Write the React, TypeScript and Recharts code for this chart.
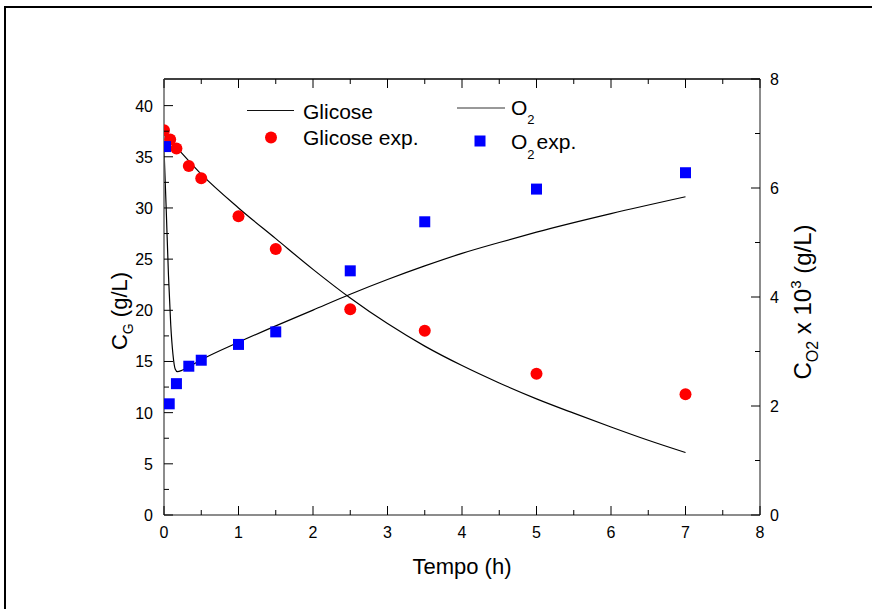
import React from 'react';
import { ComposedChart, Line, Scatter, XAxis, YAxis, Legend } from 'recharts';

// ---------- data ----------
const glcExpT = [0, 0.083, 0.167, 0.333, 0.5, 1, 1.5, 2.5, 3.5, 5, 7];
const glcExpY = [37.6, 36.7, 35.8, 34.1, 32.9, 29.2, 26.0, 20.1, 18.0, 13.8, 11.8];

const o2ExpT = [0.02, 0.07, 0.167, 0.333, 0.5, 1, 1.5, 2.5, 3.5, 5, 7];
const o2ExpY = [6.76, 2.04, 2.41, 2.73, 2.84, 3.13, 3.36, 4.48, 5.38, 5.98, 6.28];

const glcModelT = [0, 0.17, 0.5, 1, 1.5, 2, 2.5, 3, 3.5, 4, 4.5, 5, 5.5, 6, 6.5, 7];
const glcModelY = [37.2, 35.9, 33.3, 30.0, 27.0, 24.0, 21.2, 18.7, 16.5, 14.6, 12.9, 11.35, 9.95, 8.6, 7.3, 6.1];

const o2ModelT = [0, 0.03, 0.06, 0.09, 0.12, 0.15, 0.18, 0.25, 0.5, 1, 1.5, 2, 2.5, 3, 3.5, 4, 4.5, 5, 6, 7];
const o2ModelY = [6.72, 5.6, 4.4, 3.5, 2.95, 2.68, 2.63, 2.66, 2.85, 3.17, 3.47, 3.76, 4.05, 4.32, 4.57, 4.8, 5.0, 5.19, 5.53, 5.84];

const xTicks = [0, 0.5, 1, 1.5, 2, 2.5, 3, 3.5, 4, 4.5, 5, 5.5, 6, 6.5, 7, 7.5, 8];
const gTicks = [0, 2.5, 5, 7.5, 10, 12.5, 15, 17.5, 20, 22.5, 25, 27.5, 30, 32.5, 35, 37.5, 40];
const oTicks = [0, 1, 2, 3, 4, 5, 6, 7, 8];

const zip = (ts: number[], ys: number[]) => ts.map((t, i) => ({ t, y: ys[i] }));
const glcExp = zip(glcExpT, glcExpY);
const o2Exp = zip(o2ExpT, o2ExpY);
const glcModel = zip(glcModelT, glcModelY);
const o2Model = zip(o2ModelT, o2ModelY);

const FONT = "Arial, 'Liberation Sans', sans-serif";
const AXIS_COLOR = '#666';

const isMajorX = (v: number) => Number.isInteger(v);
const isMajorG = (v: number) => v % 5 === 0;
const isMajorO = (v: number) => v % 2 === 0;

const BottomTick = (p: any) => {
  const v = p.payload.value;
  const major = isMajorX(v);
  return (
    <g>
      <line x1={p.x} x2={p.x} y1={p.y} y2={p.y - (major ? 9 : 5)} stroke="#000" strokeWidth={1} />
      {major && (
        <text x={p.x} y={p.y + 23} textAnchor="middle" fontSize={16} fontFamily={FONT} fill="#000">
          {v}
        </text>
      )}
    </g>
  );
};

const TopTick = (p: any) => {
  const v = p.payload.value;
  const major = isMajorX(v);
  return <line x1={p.x} x2={p.x} y1={p.y} y2={p.y + (major ? 9 : 5)} stroke="#000" strokeWidth={1} />;
};

const LeftTick = (p: any) => {
  const v = p.payload.value;
  const major = isMajorG(v);
  return (
    <g>
      <line x1={p.x} x2={p.x + (major ? 9 : 5)} y1={p.y} y2={p.y} stroke="#000" strokeWidth={1} />
      {major && (
        <text x={p.x - 11} y={p.y + 6} textAnchor="end" fontSize={16} fontFamily={FONT} fill="#000">
          {v}
        </text>
      )}
    </g>
  );
};

const RightTick = (p: any) => {
  const v = p.payload.value;
  const major = isMajorO(v);
  return (
    <g>
      <line x1={p.x} x2={p.x - (major ? 9 : 5)} y1={p.y} y2={p.y} stroke="#000" strokeWidth={1} />
      {major && (
        <text x={p.x + 10} y={p.y + 6} textAnchor="start" fontSize={16} fontFamily={FONT} fill="#000">
          {v}
        </text>
      )}
    </g>
  );
};

const RedDot = (p: any) => <circle cx={p.cx} cy={p.cy} r={6} fill="#ff0000" />;
const BlueSquare = (p: any) => <rect x={p.cx - 5.5} y={p.cy - 5.5} width={11} height={11} fill="#0000ff" />;

const LegendContent = () => (
  <svg width={872} height={609} style={{ position: 'absolute', left: 0, top: 0, overflow: 'visible', pointerEvents: 'none' }}>
    <g fontFamily={FONT} fontSize={21} fill="#000">
      <line x1={247} x2={294} y1={110.5} y2={110.5} stroke="#111" strokeWidth={1} />
      <text x={303} y={118.5}>Glicose</text>
      <circle cx={271} cy={137.5} r={6} fill="#ff0000" />
      <text x={303} y={145}>Glicose exp.</text>
      <line x1={457} x2={505} y1={108} y2={108} stroke="#333" strokeWidth={1} />
      <text x={511} y={114.5}>
        O<tspan dy={9.5} fontSize={13}>2</tspan>
      </text>
      <rect x={474.5} y={135.5} width={11} height={11} fill="#0000ff" />
      <text x={511} y={149}>
        O<tspan dy={9.5} fontSize={13}>2</tspan>
        <tspan dy={-9.5} dx={2}>exp.</tspan>
      </text>
    </g>
  </svg>
);

export default function App() {
  return (
    <div style={{ position: 'absolute', left: 0, top: 0, width: 872, height: 609, overflow: 'hidden', background: '#fff' }}>
      <div
        style={{
          position: 'absolute',
          left: 4,
          top: 6,
          width: 1000,
          height: 1000,
          borderTop: '2px solid #000',
          borderLeft: '2px solid #000',
        }}
      />
      <div style={{ position: 'absolute', left: 0, top: 0 }}>
        <ComposedChart width={872} height={609} margin={{ top: 78, right: 0, bottom: 0, left: 0 }}>
          <XAxis
            xAxisId="x"
            type="number"
            dataKey="t"
            domain={[0, 8]}
            allowDataOverflow
            ticks={xTicks}
            interval={0}
            height={94}
            tickSize={0}
            tickMargin={0}
            tickLine={false}
            tick={<BottomTick />}
            axisLine={{ stroke: AXIS_COLOR, strokeWidth: 1.5 }}
            label={{
              content: () => (
                <text x={462} y={574} textAnchor="middle" fontSize={22} fontFamily={FONT} fill="#000">
                  Tempo (h)
                </text>
              ),
            }}
          />
          <XAxis
            xAxisId="top"
            orientation="top"
            type="number"
            dataKey="t"
            domain={[0, 8]}
            allowDataOverflow
            ticks={xTicks}
            interval={0}
            height={1}
            tickSize={0}
            tickMargin={0}
            tickLine={false}
            tick={<TopTick />}
            axisLine={{ stroke: '#000', strokeWidth: 1.5 }}
          />
          <YAxis
            yAxisId="g"
            orientation="left"
            type="number"
            dataKey="y"
            domain={[0, 42.6]}
            allowDataOverflow
            ticks={gTicks}
            interval={0}
            width={164}
            tickSize={0}
            tickMargin={0}
            tickLine={false}
            tick={<LeftTick />}
            axisLine={{ stroke: AXIS_COLOR, strokeWidth: 1.5 }}
            label={{
              content: () => (
                <text
                  transform="translate(127, 311) rotate(-90)"
                  textAnchor="middle"
                  fontSize={22}
                  fontFamily={FONT}
                  fill="#000"
                >
                  C<tspan dy={6} fontSize={14}>G</tspan>
                  <tspan dy={-6}> (g/L)</tspan>
                </text>
              ),
            }}
          />
          <YAxis
            yAxisId="o"
            orientation="right"
            type="number"
            dataKey="y"
            domain={[0, 8]}
            allowDataOverflow
            ticks={oTicks}
            interval={0}
            width={112}
            tickSize={0}
            tickMargin={0}
            tickLine={false}
            tick={<RightTick />}
            axisLine={{ stroke: AXIS_COLOR, strokeWidth: 1.5 }}
            label={{
              content: () => (
                <text
                  transform="translate(811, 302) rotate(-90)"
                  textAnchor="middle"
                  fontSize={24}
                  fontFamily={FONT}
                  fill="#000"
                >
                  C<tspan dy={7} fontSize={16}>O2</tspan>
                  <tspan dy={-7}> x 10</tspan>
                  <tspan dy={-10} fontSize={15}>3</tspan>
                  <tspan dy={10}> (g/L)</tspan>
                </text>
              ),
            }}
          />
          <Legend
            content={() => <LegendContent />}
            wrapperStyle={{ position: 'absolute', left: 0, top: 0, width: 0, height: 0, overflow: 'visible' }}
          />
          <Line
            xAxisId="x"
            yAxisId="g"
            data={glcModel}
            dataKey="y"
            type="monotone"
            stroke="#000"
            strokeWidth={1.2}
            dot={false}
            activeDot={false}
            isAnimationActive={false}
          />
          <Line
            xAxisId="x"
            yAxisId="o"
            data={o2Model}
            dataKey="y"
            type="monotone"
            stroke="#000"
            strokeWidth={1.2}
            dot={false}
            activeDot={false}
            isAnimationActive={false}
          />
          <Scatter
            xAxisId="x"
            yAxisId="g"
            data={glcExp}
            dataKey="y"
            shape={<RedDot />}
            isAnimationActive={false}
          />
          <Scatter
            xAxisId="x"
            yAxisId="o"
            data={o2Exp}
            dataKey="y"
            shape={<BlueSquare />}
            isAnimationActive={false}
          />
        </ComposedChart>
      </div>
    </div>
  );
}
